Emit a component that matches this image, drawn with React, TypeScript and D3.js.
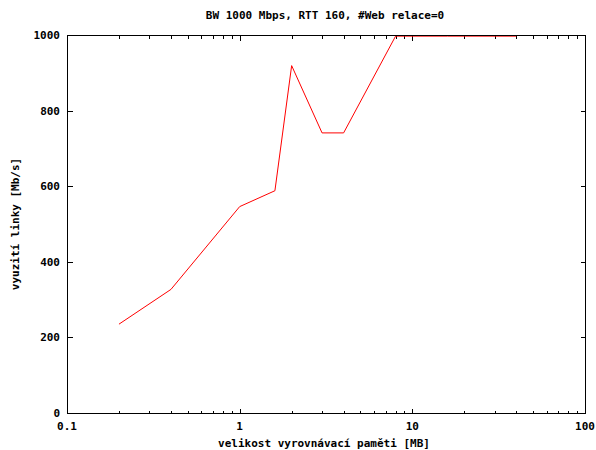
import React from "react";
import * as d3 from "d3";

// Buffer size [MB] vs. link utilisation [Mb/s]
const bufferSizes = [0.2, 0.4, 1, 1.6, 2, 3, 4, 8, 16, 40];
const utilisation = [235, 327, 546, 588, 919, 741, 741, 997, 997, 997];

const yTicks = [0, 200, 400, 600, 800, 1000];
const xMajorTicks = [0.1, 1, 10, 100];
const xTickLabels = ["0.1", "1", "10", "100"];

const titleText = "BW 1000 Mbps, RTT 160, #Web relace=0";
const xLabelText = "velikost vyrovnávací paměti [MB]";
const yLabelText = "vyuzití linky [Mb/s]";

const W = 596;
const H = 450;
const left = 67;
const right = 585;
const top = 35;
const bottom = 413;

const FONT = "'DejaVu Sans Mono', monospace";

export default function App() {
  const x = d3.scaleLog().domain([0.1, 100]).range([left, right]);
  const y = d3.scaleLinear().domain([0, 1000]).range([bottom, top]);

  const minorTicks: number[] = [];
  for (let d = 0.1; d < 100; d *= 10) {
    for (let k = 2; k <= 9; k++) minorTicks.push(+(d * k).toPrecision(3));
  }

  const line = d3
    .line<number>()
    .x((_, i) => x(bufferSizes[i]))
    .y((v) => y(v));

  const px = (v: number) => Math.round(v) + 0.5;
  const major = 5;
  const minor = 3;

  return (
    <svg
      width={W}
      height={H}
      style={{ position: "absolute", left: 0, top: 0, background: "#fff" }}
    >
      <rect x={0} y={0} width={W} height={H} fill="#fff" />
      <text
        x={325}
        y={19}
        textAnchor="middle"
        fontFamily={FONT}
        fontWeight="bold"
        fontSize={11}
        fill="#000"
      >
        {titleText}
      </text>

      <g stroke="#000" strokeWidth={1} shapeRendering="crispEdges">
        {yTicks.map((t) => (
          <g key={"y" + t}>
            <line x1={px(left)} x2={px(left) + major} y1={px(y(t))} y2={px(y(t))} />
            <line x1={px(right)} x2={px(right) - major} y1={px(y(t))} y2={px(y(t))} />
          </g>
        ))}
        {xMajorTicks.map((t) => (
          <g key={"x" + t}>
            <line x1={px(x(t))} x2={px(x(t))} y1={px(bottom)} y2={px(bottom) - major} />
            <line x1={px(x(t))} x2={px(x(t))} y1={px(top)} y2={px(top) + major} />
          </g>
        ))}
        {minorTicks.map((t) => (
          <g key={"m" + t}>
            <line x1={px(x(t))} x2={px(x(t))} y1={px(bottom)} y2={px(bottom) - minor} />
            <line x1={px(x(t))} x2={px(x(t))} y1={px(top)} y2={px(top) + minor} />
          </g>
        ))}
      </g>

      <path
        d={line(utilisation) || ""}
        fill="none"
        stroke="#ff0000"
        strokeWidth={1}
      />

      <rect
        x={px(left)}
        y={px(top)}
        width={Math.round(right) - Math.round(left)}
        height={Math.round(bottom) - Math.round(top)}
        fill="none"
        stroke="#000"
        strokeWidth={1}
        shapeRendering="crispEdges"
      />

      <g fontFamily={FONT} fontWeight="bold" fontSize={11} fill="#000">
        {yTicks.map((t) => (
          <text key={"yl" + t} x={60} y={y(t) + 4} textAnchor="end">
            {t}
          </text>
        ))}
        {xMajorTicks.map((t, i) => (
          <text key={"xl" + t} x={x(t)} y={430} textAnchor="middle">
            {xTickLabels[i]}
          </text>
        ))}
        <text x={324} y={447} textAnchor="middle">
          {xLabelText}
        </text>
        <text
          transform={`translate(19, ${(top + bottom) / 2}) rotate(-90)`}
          textAnchor="middle"
        >
          {yLabelText}
        </text>
      </g>
    </svg>
  );
}
